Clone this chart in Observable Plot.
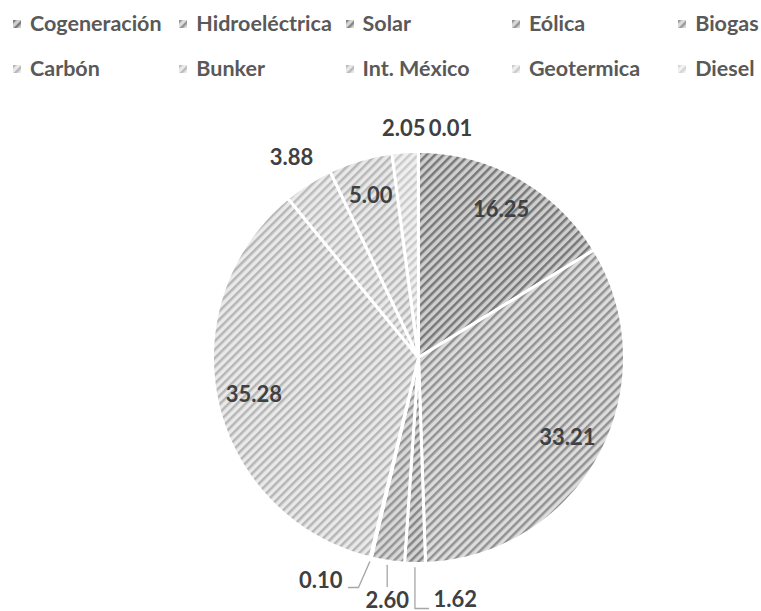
<!DOCTYPE html>
<html><head><meta charset="utf-8">
<script src="https://cdn.jsdelivr.net/npm/d3@7"></script>
<script src="https://cdn.jsdelivr.net/npm/@observablehq/plot@0.6"></script>
<style>
body{margin:0;background:#fff;font-family:Lato,"Open Sans",sans-serif;}
#legend{position:relative;width:761px;height:95px;}
.item{position:absolute;display:flex;align-items:center;font-weight:700;font-size:21.5px;color:#595959;white-space:nowrap;line-height:1;}
.item svg{margin-right:9px;flex:none}
#chart svg{display:block}
</style></head><body>
<svg width="0" height="0" style="position:absolute"><defs id="defs"></defs></svg>
<div id="legend"></div>
<div id="chart"></div>
<script>
const categories = ["Cogeneración","Hidroeléctrica","Solar","Eólica","Biogas","Carbón","Bunker","Int. México","Geotermica","Diesel"];
const values = [16.25, 33.21, 1.62, 2.60, 0.10, 35.28, 3.88, 5.00, 2.05, 0.01];
const patternBg = ["#cfcfcf","#dcdcdc","#d4d4d4","#d8d8d8","#dadada","#e9e9e9","#eaeaea","#e8e8e8","#efefef","#f2f2f2"];
const patternFg = ["#787878","#929292","#858585","#959595","#9a9a9a","#b6b6b6","#bcbcbc","#b8b8b8","#cacaca","#d4d4d4"];

// patterns
const defs = document.getElementById("defs");
const NS = "http://www.w3.org/2000/svg";
categories.forEach((c, i) => {
  const p = document.createElementNS(NS, "pattern");
  p.setAttribute("id", "p" + i);
  p.setAttribute("patternUnits", "userSpaceOnUse");
  p.setAttribute("width", 6); p.setAttribute("height", 6);
  p.setAttribute("patternTransform", "rotate(45)");
  const r1 = document.createElementNS(NS, "rect");
  r1.setAttribute("width", 6); r1.setAttribute("height", 6); r1.setAttribute("fill", patternBg[i]);
  const r2 = document.createElementNS(NS, "rect");
  r2.setAttribute("width", 2.5); r2.setAttribute("height", 6); r2.setAttribute("fill", patternFg[i]);
  p.appendChild(r1); p.appendChild(r2); defs.appendChild(p);
});

// legend
const legend = document.getElementById("legend");
categories.forEach((c, i) => {
  const col = i % 5, row = Math.floor(i / 5);
  const d = document.createElement("div");
  d.className = "item";
  d.style.left = (13 + col * 166.3) + "px";
  d.style.top = (row === 0 ? 13 : 58) + "px";
  d.style.height = "22px";
  d.innerHTML = `<svg width="8" height="8"><rect width="8" height="8" fill="url(#p${i})"/></svg><span>${c}</span>`;
  legend.appendChild(d);
});

// pie geometry
const W = 761, H = 516, R = 206, cx = 418, cy = 262;
const arcs = d3.pie().sort(null).value(d => d)(values);
const pts = [];
arcs.forEach((a, i) => {
  const n = Math.max(2, Math.ceil((a.endAngle - a.startAngle) / 0.01));
  pts.push({cat: categories[i], x: 0, y: 0});
  for (let k = 0; k <= n; k++) {
    const t = a.startAngle + (a.endAngle - a.startAngle) * k / n;
    pts.push({cat: categories[i], x: Math.sin(t), y: Math.cos(t)});
  }
});
const fmt = d3.format(".2f");
const px = v => v / R;
// label layout
const labels = [], leaders = [];
arcs.forEach((a, i) => {
  const m = (a.startAngle + a.endAngle) / 2;
  const c = categories[i];
  const at = r => ({x: r * Math.sin(m), y: r * Math.cos(m)});
  let L, anchor = "middle";
  if (values[i] >= 5) L = at(0.82);
  else if (c === "Solar" || c === "Eólica" || c === "Biogas") {
    const s = at(1.02);
    if (c === "Solar") {
      leaders.push({cat: c, x: s.x, y: s.y}, {cat: c, x: s.x, y: -px(251)}, {cat: c, x: px(10), y: -px(251)});
      L = {x: px(15), y: -px(242)}; anchor = "start";
    } else if (c === "Eólica") {
      leaders.push({cat: c, x: s.x, y: s.y}, {cat: c, x: s.x, y: -px(229)});
      L = {x: s.x, y: -px(243)};
    } else {
      leaders.push({cat: c, x: s.x, y: s.y}, {cat: c, x: -px(60), y: -px(230)}, {cat: c, x: -px(70), y: -px(230)});
      L = {x: -px(76), y: -px(223)}; anchor = "end";
    }
  } else {
    L = at(c === "Bunker" ? 1.15 : 1.11);
    if (c === "Diesel") L.x += px(32);
  }
  labels.push({cat: c, text: fmt(values[i]), x: L.x, y: L.y, anchor});
});

const chart = Plot.plot({
  width: W, height: H, margin: 0,
  style: {background: "white", overflow: "visible"},
  x: {domain: [-cx / R, (W - cx) / R], axis: null},
  y: {domain: [-(H - cy) / R, cy / R], axis: null},
  color: {domain: categories, range: categories.map((c, i) => `url(#p${i})`)},
  marks: [
    Plot.line(pts, {x: "x", y: "y", z: "cat", fill: "cat", stroke: "white", strokeWidth: 3, strokeLinejoin: "round", curve: "linear-closed"}),
    Plot.line(leaders, {x: "x", y: "y", z: "cat", stroke: "#a6a6a6", strokeWidth: 1.3}),
    ...["start", "middle", "end"].map(an => Plot.text(labels.filter(d => d.anchor === an), {
      x: "x", y: "y", text: "text", textAnchor: an,
      fill: "#404040", fontWeight: "bold", fontSize: 22, fontFamily: "Lato, 'Open Sans', sans-serif"
    }))
  ]
});
document.getElementById("chart").appendChild(chart);
</script>
</body></html>
